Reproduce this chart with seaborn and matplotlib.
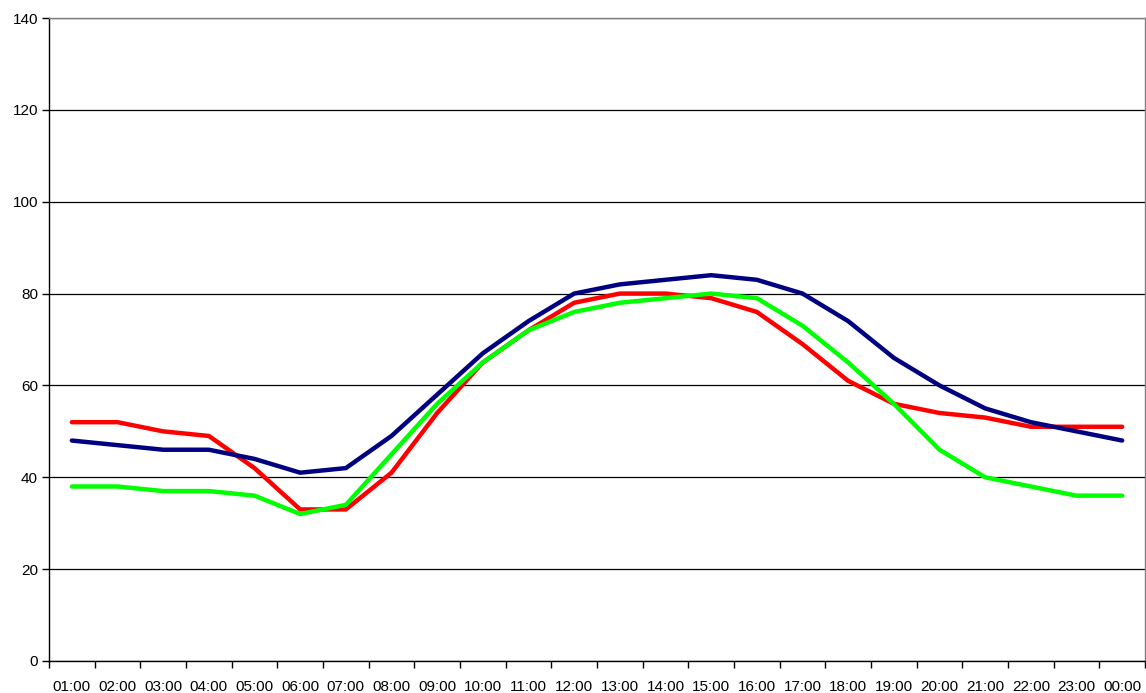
import matplotlib
matplotlib.use("Agg")
import matplotlib.pyplot as plt
import seaborn as sns
import pandas as pd
import numpy as np
from matplotlib.ticker import FixedLocator, NullFormatter

hours = ["01:00", "02:00", "03:00", "04:00", "05:00", "06:00", "07:00", "08:00",
         "09:00", "10:00", "11:00", "12:00", "13:00", "14:00", "15:00", "16:00",
         "17:00", "18:00", "19:00", "20:00", "21:00", "22:00", "23:00", "00:00"]
red_vals = [52, 52, 50, 49, 42, 33, 33, 41, 54, 65, 72, 78, 80, 80, 79, 76,
            69, 61, 56, 54, 53, 51, 51, 51]
blue_vals = [48, 47, 46, 46, 44, 41, 42, 49, 58, 67, 74, 80, 82, 83, 84, 83,
             80, 74, 66, 60, 55, 52, 50, 48]
green_vals = [38, 38, 37, 37, 36, 32, 34, 45, 56, 65, 72, 76, 78, 79, 80, 79,
              73, 65, 56, 46, 40, 38, 36, 36]

series_names = ["red", "blue", "green"]
colors = {"red": "#FF0000", "blue": "#000080", "green": "#00FF00"}

df = pd.DataFrame({
    "hour": hours * 3,
    "pos": list(range(len(hours))) * 3,
    "value": red_vals + blue_vals + green_vals,
    "series": ["red"] * 24 + ["blue"] * 24 + ["green"] * 24,
})

sns.set_theme(style="white")
plt.rcParams["font.family"] = ["Liberation Sans", "DejaVu Sans"]

fig = plt.figure(figsize=(11.46, 6.93), dpi=100)
ax = fig.add_axes([49 / 1146, 1 - 661 / 693, (1145 - 49) / 1146, (661 - 18) / 693])

sns.lineplot(data=df, x="pos", y="value", hue="series", hue_order=series_names,
             palette=colors, linewidth=3.2, legend=False, ax=ax, zorder=3)

ax.set_xlim(-0.5, len(hours) - 0.5)
ax.set_ylim(0, 140)
ax.set_yticks(np.arange(0, 141, 20))
ax.yaxis.grid(True, color="black", linewidth=0.9)
ax.xaxis.grid(False)
ax.set_axisbelow(True)

ax.set_xticks(range(len(hours)))
ax.set_xticklabels(hours)
ax.xaxis.set_minor_locator(FixedLocator(np.arange(-0.5, len(hours), 1.0)))
ax.tick_params(axis="x", which="major", length=0, pad=14, labelsize=11, colors="black")
ax.tick_params(axis="x", which="minor", length=5, width=1, color="black", direction="out", bottom=True)
ax.tick_params(axis="y", which="major", length=5, width=1, color="black", direction="out",
               left=True, labelsize=11, labelcolor="black", pad=3)

ax.set_xlabel("")
ax.set_ylabel("")

for side in ["left", "bottom"]:
    ax.spines[side].set_color("black")
    ax.spines[side].set_linewidth(1.0)
for side in ["top", "right"]:
    ax.spines[side].set_color("#808080")
    ax.spines[side].set_linewidth(1.0)

fig.savefig("out.png", dpi=100)
